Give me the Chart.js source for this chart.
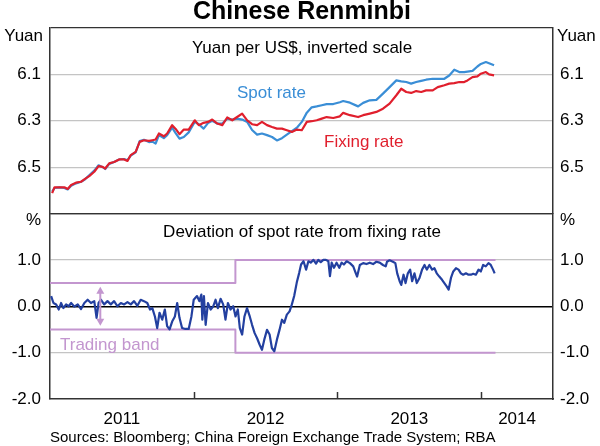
<!DOCTYPE html>
<html>
<head>
<meta charset="utf-8">
<script src="https://cdn.jsdelivr.net/npm/chart.js@4.4.1/dist/chart.umd.min.js"></script>
<style>
html,body{margin:0;padding:0;background:#fff;}
canvas{display:block;}
</style>
</head>
<body>
<canvas id="c" width="600" height="446"></canvas>
<script>
// ---------- DATA ----------
const topDates = [2011.015,2011.031,2011.066,2011.100,2011.123,2011.147,2011.181,2011.216,2011.239,2011.273,
2011.308,2011.338,2011.366,2011.384,2011.412,2011.446,2011.481,2011.516,2011.539,2011.562,
2011.596,2011.624,2011.654,2011.689,2011.712,2011.735,2011.758,2011.792,2011.815,2011.850,
2011.873,2011.901,2011.931,2011.965,2012.007,2012.035,2012.069,2012.099,
2012.129,2012.164,2012.199,2012.233,2012.268,2012.302,2012.337,2012.372,2012.406,2012.441,
2012.475,2012.510,2012.545,2012.579,2012.614,2012.648,2012.683,2012.718,2012.752,2012.787,
2012.821,2012.856,2012.891,2012.925,2012.971,2013.017,2013.040,2013.087,2013.144,
2013.179,2013.225,2013.271,2013.317,2013.363,2013.410,2013.444,2013.479,2013.513,2013.548,
2013.583,2013.617,2013.663,2013.698,2013.744,2013.778,2013.813,2013.848,2013.882,2013.905,
2013.940,2013.974,2013.998,2014.033,2014.055,2014.090];

const fixingRate = [6.612,6.587,6.587,6.587,6.594,6.577,6.567,6.563,6.553,6.539,
6.520,6.496,6.499,6.506,6.484,6.478,6.467,6.467,6.473,6.448,
6.434,6.391,6.384,6.387,6.384,6.381,6.355,6.367,6.355,6.319,
6.334,6.358,6.338,6.338,6.298,6.319,6.309,6.305,
6.295,6.312,6.319,6.286,6.298,6.284,6.269,6.298,6.315,6.319,
6.305,6.319,6.327,6.334,6.334,6.341,6.348,6.338,6.341,6.305,
6.302,6.298,6.291,6.284,6.288,6.281,6.266,6.276,6.284,
6.276,6.269,6.262,6.248,6.226,6.190,6.162,6.176,6.180,6.172,
6.176,6.169,6.169,6.155,6.147,6.140,6.138,6.133,6.133,6.126,
6.112,6.109,6.097,6.090,6.100,6.104];

const spotRate = [6.606,6.590,6.587,6.590,6.596,6.580,6.570,6.563,6.555,6.535,
6.515,6.492,6.500,6.508,6.486,6.478,6.467,6.465,6.470,6.450,
6.436,6.388,6.382,6.392,6.390,6.398,6.362,6.375,6.362,6.330,
6.352,6.377,6.370,6.350,6.305,6.315,6.334,6.310,
6.300,6.312,6.312,6.291,6.295,6.291,6.295,6.305,6.340,6.360,
6.355,6.362,6.370,6.385,6.375,6.360,6.345,6.330,6.305,6.265,
6.242,6.238,6.233,6.228,6.228,6.220,6.215,6.222,6.238,
6.223,6.212,6.210,6.183,6.155,6.126,6.130,6.133,6.140,6.133,
6.128,6.123,6.119,6.119,6.119,6.105,6.080,6.090,6.090,6.088,
6.085,6.066,6.055,6.047,6.052,6.061];

const devDates = [2011.008,2011.024,2011.043,2011.061,2011.077,2011.093,2011.112,2011.130,2011.147,2011.170,
2011.193,2011.216,2011.239,2011.262,2011.285,2011.308,2011.324,2011.338,2011.354,2011.377,
2011.400,2011.423,2011.446,2011.469,2011.493,2011.516,2011.539,2011.562,2011.585,2011.608,
2011.631,2011.654,2011.677,2011.696,2011.712,2011.730,2011.746,2011.762,2011.781,2011.799,
2011.815,2011.832,2011.850,2011.869,2011.885,2011.901,2011.919,2011.942,2011.965,2011.984,
2012.000,2012.023,2012.039,2012.053,
2012.060,2012.071,2012.083,2012.099,2012.118,2012.136,2012.152,2012.168,2012.187,2012.205,
2012.221,2012.238,2012.256,2012.275,2012.291,2012.307,2012.321,2012.337,2012.353,2012.371,
2012.390,2012.406,2012.424,2012.441,2012.459,2012.475,2012.491,2012.510,2012.528,2012.544,
2012.561,2012.579,2012.597,2012.614,2012.630,2012.648,2012.667,2012.683,2012.699,2012.717,
2012.734,2012.747,2012.764,2012.782,2012.798,2012.814,2012.833,2012.851,2012.867,2012.884,
2012.902,2012.920,2012.937,2012.948,2012.960,2012.976,2012.994,2013.013,2013.029,2013.045,
2013.064,
2013.087,2013.110,2013.128,2013.137,2013.156,2013.179,2013.202,2013.225,2013.248,2013.271,
2013.294,2013.317,2013.336,2013.345,2013.363,2013.386,2013.403,2013.416,2013.433,2013.444,
2013.460,2013.474,2013.490,2013.506,2013.520,2013.536,2013.552,2013.571,2013.589,2013.606,
2013.622,2013.640,2013.659,2013.675,2013.691,2013.709,2013.728,2013.744,2013.760,2013.774,
2013.790,2013.806,2013.825,2013.843,2013.859,2013.875,2013.894,2013.912,2013.929,2013.945,
2013.963,2013.982,2013.998,2014.014,2014.032,2014.051,2014.067,2014.083,2014.094];

const deviation = [0.22,0.07,0.04,-0.07,0.07,-0.04,0.04,0.00,0.07,-0.01,
0.04,-0.06,0.07,0.14,0.07,0.11,-0.25,0.07,0.14,0.04,
0.11,0.04,0.11,0.00,0.07,0.04,0.09,0.04,0.11,0.01,
0.14,0.11,0.07,-0.07,-0.04,-0.22,-0.47,-0.14,-0.29,-0.07,
-0.43,-0.50,-0.33,-0.22,0.07,-0.25,-0.47,-0.49,-0.49,-0.22,
0.14,0.22,0.11,0.25,
-0.29,0.22,-0.40,0.07,-0.07,0.00,0.14,-0.04,0.16,0.04,
-0.29,0.07,-0.07,0.00,-0.22,-0.07,-0.47,-0.61,-0.22,-0.04,
-0.22,-0.40,-0.58,-0.69,-0.83,-0.94,-0.72,-0.51,-0.61,-0.90,
-0.97,-0.72,-0.51,-0.29,-0.36,-0.18,-0.11,0.04,0.22,0.51,
0.72,0.90,0.97,0.79,0.97,0.94,1.00,0.92,1.00,0.95,
1.00,1.00,0.97,0.65,0.94,0.83,0.94,0.83,0.94,0.90,
0.97,
0.93,0.86,0.71,0.64,0.89,0.93,0.91,0.94,0.91,0.96,
0.94,0.89,0.86,0.96,0.99,0.96,0.93,0.71,0.54,0.46,
0.68,0.50,0.71,0.79,0.54,0.71,0.50,0.61,0.79,0.89,
0.79,0.89,0.79,0.82,0.71,0.64,0.57,0.50,0.43,0.36,
0.61,0.75,0.82,0.79,0.71,0.68,0.71,0.68,0.68,0.70,
0.68,0.79,0.75,0.89,0.86,0.93,0.89,0.79,0.71];

const bandDates = [2011.0, 2012.29, 2012.29, 2014.10];
const bandUpper = [0.5, 0.5, 1.0, 1.0];
const bandLower = [-0.5, -0.5, -1.0, -1.0];

const topGridValues = [5.9, 6.1, 6.3, 6.5, 6.7];
const topTickLabels = ['6.1', '6.3', '6.5'];
const botGridValues = [2, 1, 0, -1, -2];
const botTickLabels = ['1.0', '0.0', '-1.0', '-2.0'];
const xLabelValues = [2011.5, 2012.5, 2013.5, 2014.25];
const xLabels = ['2011', '2012', '2013', '2014'];
const yearBoundaries = [2012, 2013, 2014];

// ---------- STYLE ----------
const FONT = '"Liberation Sans", Arial, Helvetica, sans-serif';
Chart.defaults.font.family = FONT;
Chart.defaults.font.size = 17;
Chart.defaults.color = '#000';

const C_SPOT = '#3a8ed6', C_FIX = '#e01f2d', C_DEV = '#2340a0', C_BAND = '#c396cf';
const C_GRID = '#c4c4c4', C_AXIS = '#333333';

const pts = (xs, ys) => xs.map((x, i) => ({x: x, y: ys[i]}));
const near = (a, b) => Math.abs(a - b) < 1e-6;

function fmt(v, labels) {
  const s = (Math.abs(v) < 1e-9 ? 0 : v).toFixed(1);
  return labels.includes(s) ? s : '';
}

function yScale(opts) {
  return Object.assign({
    type: 'linear',
    afterFit: s => { s.width = opts.position === 'left' ? 50 : 47; },
    border: {display: true, color: C_AXIS, width: 1.5},
    ticks: {padding: opts.position === 'left' ? 9 : 7, font: {size: 17}, color: '#000'},
  }, opts);
}

const textPlugin = {
  id: 'texts',
  afterDraw(chart) {
    const c = chart.ctx, a = chart.chartArea;
    const xs = chart.scales.x, yb = chart.scales.yBot;
    c.save();
    // year boundary tick marks
    c.strokeStyle = C_AXIS; c.lineWidth = 1.5;
    yearBoundaries.forEach(yr => {
      const px = Math.round(xs.getPixelForValue(yr)) + 0.5;
      c.beginPath(); c.moveTo(px, a.bottom); c.lineTo(px, a.bottom - 7); c.stroke();
    });
    // trading band arrow
    const ax = xs.getPixelForValue(2011.35);
    const y1 = yb.getPixelForValue(0.42), y2 = yb.getPixelForValue(-0.42);
    c.strokeStyle = C_BAND; c.fillStyle = C_BAND; c.lineWidth = 2;
    c.beginPath(); c.moveTo(ax, y1 + 4); c.lineTo(ax, y2 - 4); c.stroke();
    c.beginPath(); c.moveTo(ax, y1); c.lineTo(ax - 4, y1 + 7); c.lineTo(ax + 4, y1 + 7); c.closePath(); c.fill();
    c.beginPath(); c.moveTo(ax, y2); c.lineTo(ax - 4, y2 - 7); c.lineTo(ax + 4, y2 - 7); c.closePath(); c.fill();

    c.textBaseline = 'alphabetic';
    // title
    c.fillStyle = '#000';
    c.font = 'bold 25px ' + FONT; c.textAlign = 'center';
    c.fillText('Chinese Renminbi', 302, 19);
    // panel titles
    c.font = '17px ' + FONT;
    c.fillText('Yuan per US$, inverted scale', 302, 53);
    c.fillText('Deviation of spot rate from fixing rate', 302, 237);
    // unit labels
    c.textAlign = 'right';
    c.fillText('Yuan', 43, 41);
    c.fillText('%', 41, 225);
    c.textAlign = 'left';
    c.fillText('Yuan', 557, 41);
    c.fillText('%', 560, 225);
    // series labels
    c.fillStyle = C_SPOT; c.fillText('Spot rate', 237, 98);
    c.fillStyle = C_FIX; c.fillText('Fixing rate', 324, 147);
    c.fillStyle = C_BAND; c.fillText('Trading band', 60, 350);
    // sources
    c.fillStyle = '#000';
    c.font = '15px ' + FONT;
    c.fillText('Sources: Bloomberg; China Foreign Exchange Trade System; RBA', 50, 442);
    c.restore();
  }
};

new Chart(document.getElementById('c'), {
  type: 'line',
  data: {
    datasets: [
      {label: 'Fixing rate', data: pts(topDates, fixingRate), yAxisID: 'yTop', borderColor: C_FIX, borderWidth: 2.2},
      {label: 'Spot rate', data: pts(topDates, spotRate), yAxisID: 'yTop', borderColor: C_SPOT, borderWidth: 2.2},
      {label: 'Deviation', data: pts(devDates, deviation), yAxisID: 'yBot', borderColor: C_DEV, borderWidth: 2.2},
      {label: 'Band upper', data: pts(bandDates, bandUpper), yAxisID: 'yBot', borderColor: C_BAND, borderWidth: 2},
      {label: 'Band lower', data: pts(bandDates, bandLower), yAxisID: 'yBot', borderColor: C_BAND, borderWidth: 2}
    ]
  },
  options: {
    responsive: false,
    animation: false,
    elements: {point: {radius: 0}, line: {tension: 0, borderJoinStyle: 'round'}},
    layout: {padding: {top: 28, left: 0, right: 0, bottom: 0}},
    plugins: {legend: {display: false}, tooltip: {enabled: false}, title: {display: false}},
    scales: {
      x: {
        type: 'linear', min: 2011.0, max: 2014.5, position: 'bottom',
        afterFit: s => { s.height = 47; },
        afterBuildTicks: s => { s.ticks = xLabelValues.map(v => ({value: v})); },
        grid: {display: false, drawTicks: false},
        border: {display: true, color: C_AXIS, width: 1.5},
        ticks: {padding: 10, maxRotation: 0, autoSkip: false, font: {size: 17}, color: '#000',
          callback: v => { const i = xLabelValues.findIndex(t => near(t, v)); return i >= 0 ? xLabels[i] : ''; }}
      },
      yTop: yScale({
        position: 'left', stack: 'L', stackWeight: 1, weight: 2, reverse: true, min: 5.9, max: 6.7,
        afterBuildTicks: s => { s.ticks = topGridValues.map(v => ({value: v})); },
        grid: {drawTicks: false, lineWidth: 1.2,
          color: ctx => (near(ctx.tick.value, 5.9) || near(ctx.tick.value, 6.7)) ? C_AXIS : C_GRID},
        ticks: {padding: 9, font: {size: 17}, color: '#000', callback: v => fmt(v, topTickLabels)}
      }),
      yBot: yScale({
        position: 'left', stack: 'L', stackWeight: 1, weight: 1, min: -2, max: 2,
        afterBuildTicks: s => { s.ticks = botGridValues.map(v => ({value: v})); },
        grid: {drawTicks: false, lineWidth: ctx => near(ctx.tick.value, 0) ? 1.5 : 1.2,
          color: ctx => near(ctx.tick.value, 2) ? C_AXIS : near(ctx.tick.value, 0) ? '#000' : near(ctx.tick.value, -2) ? 'rgba(0,0,0,0)' : C_GRID},
        ticks: {padding: 9, font: {size: 17}, color: '#000', callback: v => fmt(v, botTickLabels)}
      }),
      yTopR: yScale({
        position: 'right', stack: 'R', stackWeight: 1, weight: 1, reverse: true, min: 5.9, max: 6.7,
        afterBuildTicks: s => { s.ticks = topGridValues.map(v => ({value: v})); },
        grid: {display: false, drawTicks: false},
        ticks: {padding: 7, font: {size: 17}, color: '#000', callback: v => fmt(v, topTickLabels)}
      }),
      yBotR: yScale({
        position: 'right', stack: 'R', stackWeight: 1, weight: 2, min: -2, max: 2,
        afterBuildTicks: s => { s.ticks = botGridValues.map(v => ({value: v})); },
        grid: {display: false, drawTicks: false},
        ticks: {padding: 7, font: {size: 17}, color: '#000', callback: v => fmt(v, botTickLabels)}
      })
    }
  },
  plugins: [textPlugin]
});
</script>
</body>
</html>
